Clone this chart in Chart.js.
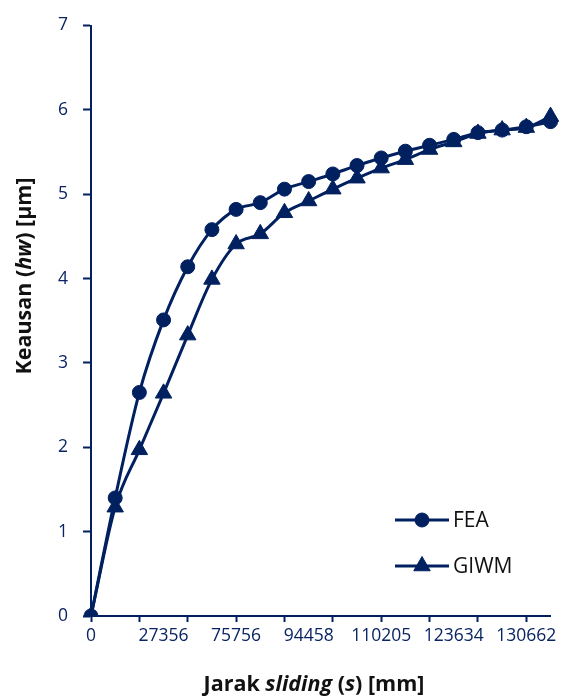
<!DOCTYPE html>
<html>
<head>
<meta charset="utf-8">
<script src="https://cdn.jsdelivr.net/npm/chart.js@4"></script>
<style>
  body { margin: 0; background: #fff; }
  #wrap { width: 561px; height: 697px; position: relative; }
</style>
</head>
<body>
<div id="wrap"><canvas id="chart"></canvas></div>
<script>
// sliding distance categories (only every third one is labelled in the figure)
const distances = ['0', '', '', '27356', '', '', '75756', '', '', '94458', '', '',
    '110205', '', '', '123634', '', '', '130662', ''];

const fea = [0, 1.40, 2.65, 3.51, 4.14, 4.58, 4.82, 4.90, 5.06, 5.15,
    5.24, 5.34, 5.43, 5.51, 5.58, 5.65, 5.73, 5.76, 5.80, 5.86];
const giwm = [0, 1.29, 1.97, 2.64, 3.33, 3.99, 4.41, 4.53, 4.78, 4.92,
    5.06, 5.19, 5.31, 5.41, 5.53, 5.62, 5.72, 5.76, 5.79, 5.92];

const yTicks = [0, 1, 2, 3, 4, 5, 6, 7];

const navy = '#002060';
const font = "'Open Sans', sans-serif";

// draws one line of text built from parts with different font styles
function mixedText(ctx, parts, x, y, size) {
    let total = 0;
    parts.forEach(p => {
        ctx.font = (p.italic ? 'italic ' : '') + 'bold ' + size + 'px ' + font;
        p.w = ctx.measureText(p.text).width;
        total += p.w;
    });
    let cx = x - total / 2;
    parts.forEach(p => {
        ctx.font = (p.italic ? 'italic ' : '') + 'bold ' + size + 'px ' + font;
        ctx.fillText(p.text, cx, y);
        cx += p.w;
    });
}

const extras = {
    id: 'extras',
    afterDraw(chart) {
        const ctx = chart.ctx;
        ctx.save();
        ctx.fillStyle = '#111';
        ctx.textAlign = 'left';
        ctx.textBaseline = 'middle';

        // x axis title
        mixedText(ctx, [
            { text: 'Jarak ' }, { text: 'sliding', italic: true },
            { text: ' (' }, { text: 's', italic: true }, { text: ') [mm]' }
        ], 314, 685, 21.5);

        // y axis title
        ctx.save();
        ctx.translate(25, 276);
        ctx.rotate(-Math.PI / 2);
        mixedText(ctx, [
            { text: 'Keausan (' }, { text: 'hw', italic: true }, { text: ') [µm]' }
        ], 0, 0, 21.5);
        ctx.restore();

        // legend
        const rows = [
            { ds: chart.data.datasets[0], y: 520 },
            { ds: chart.data.datasets[1], y: 566 }
        ];
        rows.forEach(r => {
            ctx.strokeStyle = navy;
            ctx.fillStyle = navy;
            ctx.lineWidth = 3;
            ctx.beginPath();
            ctx.moveTo(395, r.y);
            ctx.lineTo(449, r.y);
            ctx.stroke();
            ctx.lineWidth = 1;
            Chart.helpers.drawPoint(ctx, {
                pointStyle: r.ds.pointStyle,
                radius: r.ds.pointRadius,
                borderWidth: 1
            }, 422, r.y);
            ctx.fillStyle = '#111';
            ctx.font = '21px ' + font;
            ctx.fillText(r.ds.label, 453, r.y + 1);
        });
        ctx.restore();
    }
};

Chart.defaults.font.family = font;

new Chart(document.querySelector('#chart').getContext('2d'), {
    type: 'line',
    data: {
        labels: distances,
        datasets: [
            {
                label: 'FEA',
                data: fea,
                borderColor: navy,
                backgroundColor: navy,
                borderWidth: 3,
                pointStyle: 'circle',
                pointRadius: 7,
                pointBorderWidth: 1,
                cubicInterpolationMode: 'monotone'
            },
            {
                label: 'GIWM',
                data: giwm,
                borderColor: navy,
                backgroundColor: navy,
                borderWidth: 3,
                pointStyle: 'triangle',
                pointRadius: 9.5,
                pointBorderWidth: 1,
                cubicInterpolationMode: 'monotone'
            }
        ]
    },
    options: {
        responsive: true,
        maintainAspectRatio: false,
        animation: false,
        layout: { padding: { top: 22, right: 10, left: 0, bottom: 0 } },
        plugins: {
            legend: { display: false },
            tooltip: { enabled: false }
        },
        scales: {
            x: {
                offset: false,
                afterFit: s => { s.height = 81; },
                border: { color: navy, width: 2 },
                grid: {
                    drawOnChartArea: false,
                    tickLength: 6,
                    tickWidth: 2,
                    tickColor: c => c.index % 2 === 0 ? navy : 'rgba(0,0,0,0)'
                },
                ticks: {
                    autoSkip: false,
                    maxRotation: 0,
                    padding: 4,
                    color: '#0a2463',
                    font: { size: 17.5 }
                }
            },
            y: {
                min: 0,
                max: 7,
                afterFit: s => { s.width = 91; },
                afterBuildTicks: s => { s.ticks = yTicks.map(v => ({ value: v })); },
                border: { color: navy, width: 2 },
                grid: {
                    drawOnChartArea: false,
                    tickLength: 8,
                    tickWidth: 2,
                    tickColor: navy
                },
                ticks: {
                    padding: 15,
                    color: '#0a2463',
                    font: { size: 17.5 }
                }
            }
        }
    },
    plugins: [extras]
});
</script>
</body>
</html>
